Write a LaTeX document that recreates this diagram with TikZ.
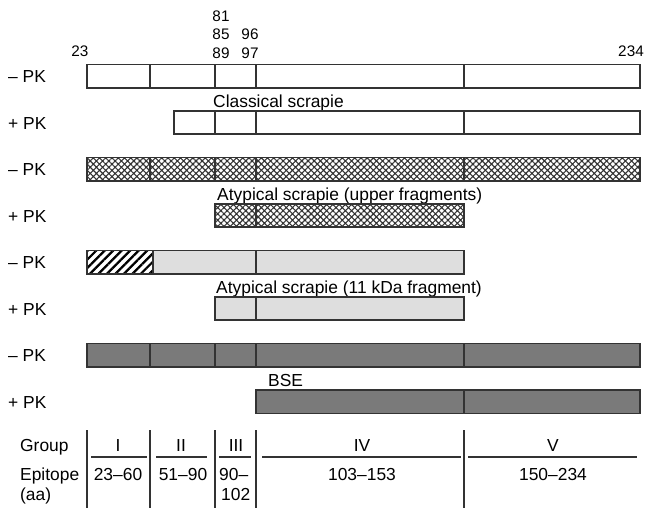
\documentclass[tikz,border=0pt]{standalone}
\usepackage{fontspec}
\setmainfont{Liberation Sans}
\usetikzlibrary{patterns.meta}
\definecolor{lightg}{HTML}{DEDEDE}
\definecolor{darkg}{HTML}{7A7A7A}
\definecolor{edge}{HTML}{333333}
\begin{document}
\begin{tikzpicture}[x=1pt,y=-1pt,
  bar/.style={draw=edge,line width=1.3pt},
  sep/.style={draw=edge,line width=1.2pt},
  lbl/.style={inner sep=0pt,anchor=base west,font=\fontsize{17.4}{20}\selectfont},
  ttl/.style={inner sep=0pt,anchor=base west,font=\fontsize{17.4}{20}\selectfont},
  num/.style={inner sep=0pt,anchor=base,font=\fontsize{15.3}{18}\selectfont},
  tab/.style={inner sep=0pt,anchor=base,font=\fontsize{17.4}{20}\selectfont},
  tline/.style={draw=edge,line width=1.3pt},
  xhatch/.style={pattern={Hatch[angle=45,distance=4.4pt,line width=1.1pt]},pattern color=black!80},
  dhatch/.style={pattern={Lines[angle=45,distance=6pt,line width=2.2pt]},pattern color=black}
]
\useasboundingbox (0,0) rectangle (645,525);
% top numbers
\node[num] (n23) at (80,56) {23};
\node[num] (n81) at (221,21) {81};
\node[num] (n85) at (221,39.5) {85};
\node[num] (n89) at (221,58) {89};
\node[num] (n96) at (250,39.5) {96};
\node[num] (n97) at (250,58) {97};
\node[num] (n234) at (631,56) {234};
% left labels
\foreach \yy/\s [count=\i] in {82.5/{– PK},129/{+ PK},175.5/{– PK},222/{+ PK},268.5/{– PK},315/{+ PK},361.5/{– PK},408/{+ PK}}
  \node[lbl] (pk\i) at (8,\yy) {\s};
% bar 1 (classical -PK)
\draw[bar,fill=white] (87,64.5) rectangle (640,88);
\foreach \x in {150,215,256,464} \draw[sep] (\x,64.5) -- (\x,88);
% classical title
\node[ttl] (t1) at (213,107) {Classical scrapie};
% bar 2
\draw[bar,fill=white] (174,111) rectangle (640,134);
\foreach \x in {215,256,464} \draw[sep] (\x,111) -- (\x,134);
% bar 3 crosshatch
\draw[bar,xhatch] (87,157.5) rectangle (640,181);
\foreach \x in {150,215,256,464} \draw[sep] (\x,157.5) -- (\x,181);
\node[ttl] (t2) at (217,200) {Atypical scrapie (upper fragments)};
% bar 4
\draw[bar,xhatch] (215,204) rectangle (464,227);
\draw[sep] (256,204) -- (256,227);
% bar 5
\fill[lightg] (153,250.5) rectangle (464,274);
\fill[white] (87,250.5) rectangle (153,274);
\path[dhatch] (87,250.5) rectangle (153,274);
\draw[bar] (87,250.5) rectangle (464,274);
\draw[sep] (153,250.5) -- (153,274);
\draw[sep] (256,250.5) -- (256,274);
\node[ttl] (t3) at (216,293) {Atypical scrapie (11 kDa fragment)};
% bar 6
\draw[bar,fill=lightg] (215,297) rectangle (464,320);
\draw[sep] (256,297) -- (256,320);
% bar 7
\draw[bar,fill=darkg] (87,343.5) rectangle (640,367);
\foreach \x in {150,215,256,464} \draw[sep] (\x,343.5) -- (\x,367);
\node[ttl] (t4) at (268,386) {BSE};
% bar 8
\draw[bar,fill=darkg] (256,390) rectangle (640,413.5);
\draw[sep] (464,390) -- (464,413.5);
% table
\node[lbl] (grp) at (20,451) {Group};
\node[lbl] (epi) at (20,480) {Epitope};
\node[lbl] (aa) at (20,500) {(aa)};
\foreach \x in {87,150,215,256,464} \draw[tline] (\x,430) -- (\x,508);
\draw[tline] (91,457) -- (147,457);
\draw[tline] (156,457) -- (207,457);
\draw[tline] (219,457) -- (251,457);
\draw[tline] (262,457) -- (461,457);
\draw[tline] (468,457) -- (637,457);
\node[tab] (g1) at (118,451) {I};
\node[tab] (g2) at (181,451) {II};
\node[tab] (g3) at (236,451) {III};
\node[tab] (g4) at (362,451) {IV};
\node[tab] (g5) at (553,451) {V};
\node[tab] (e1) at (118,480) {23–60};
\node[tab] (e2) at (183,480) {51–90};
\node[lbl] (e3a) at (219,480) {90–};
\node[lbl] (e3b) at (221,500) {102};
\node[tab] (e4) at (362,480) {103–153};
\node[tab] (e5) at (553,480) {150–234};
\end{tikzpicture}
\end{document}
